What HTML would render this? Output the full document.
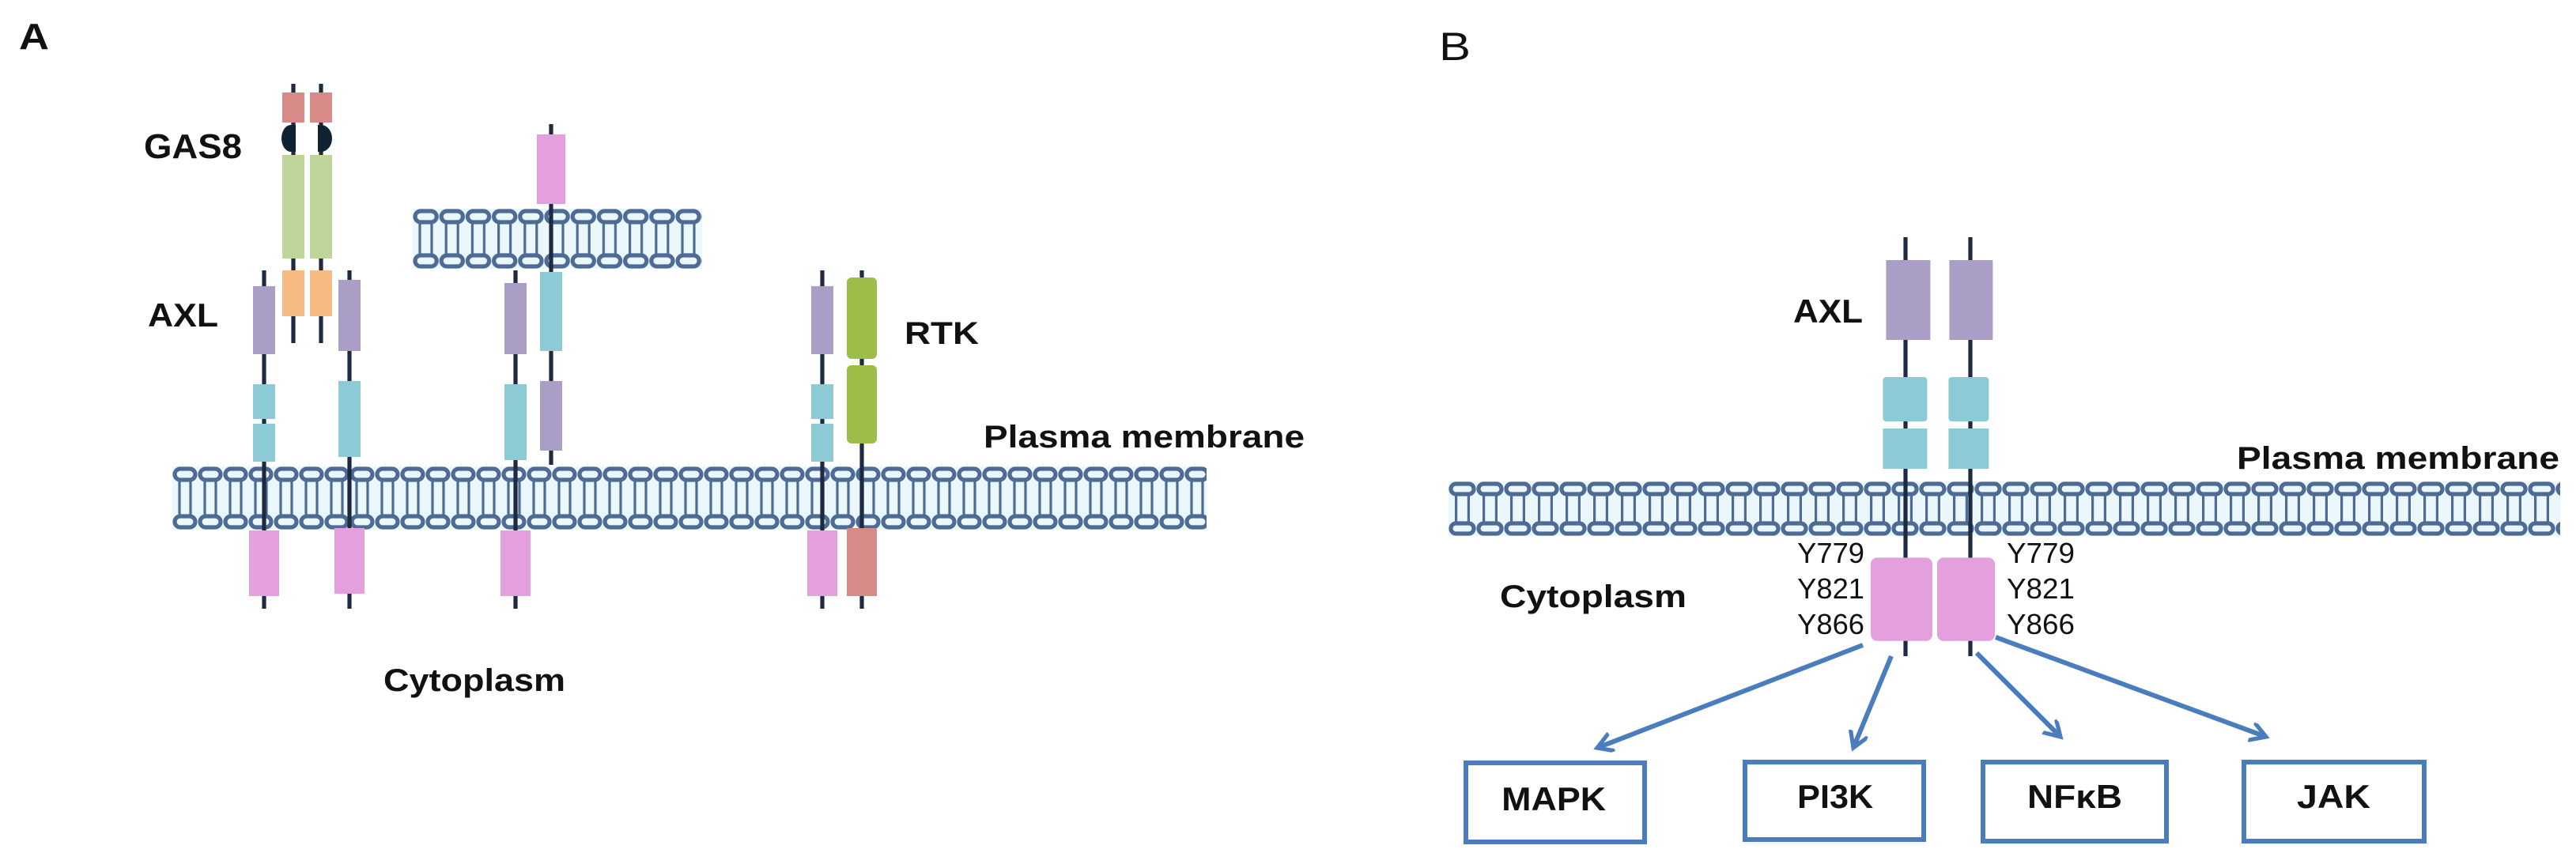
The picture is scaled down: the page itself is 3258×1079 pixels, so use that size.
<!DOCTYPE html>
<html><head><meta charset="utf-8"><style>
html,body{margin:0;padding:0;background:#fff;}
svg{display:block;}
text{font-family:"Liberation Sans",sans-serif;font-weight:bold;fill:#111;}
</style></head><body>
<svg width="3258" height="1079" viewBox="0 0 1629 539.5" xmlns="http://www.w3.org/2000/svg">
<defs>
<pattern id="memA" x="109" y="295" width="16" height="40" patternUnits="userSpaceOnUse">
<rect width="16" height="40" fill="#eaf7fc"/>
<line x1="4.5" y1="8" x2="4.5" y2="32" stroke="#4d6b94" stroke-width="1.6"/>
<line x1="11.5" y1="8" x2="11.5" y2="32" stroke="#4d6b94" stroke-width="1.6"/>
<rect x="1.5" y="1.5" width="13" height="7" rx="3.5" fill="#eaf7fc" stroke="#4d6b94" stroke-width="2.6"/>
<rect x="1.5" y="31.5" width="13" height="7" rx="3.5" fill="#eaf7fc" stroke="#4d6b94" stroke-width="2.6"/>
</pattern>
<pattern id="memS" x="261" y="132" width="16.6" height="38" patternUnits="userSpaceOnUse">
<rect width="16.6" height="38" fill="#eaf7fc"/>
<line x1="4.5" y1="8" x2="4.5" y2="30" stroke="#4d6b94" stroke-width="1.6"/>
<line x1="12" y1="8" x2="12" y2="30" stroke="#4d6b94" stroke-width="1.6"/>
<rect x="1.5" y="1.5" width="13.6" height="7" rx="3.5" fill="#eaf7fc" stroke="#4d6b94" stroke-width="2.6"/>
<rect x="1.5" y="29.5" width="13.6" height="7" rx="3.5" fill="#eaf7fc" stroke="#4d6b94" stroke-width="2.6"/>
</pattern>
<pattern id="memB" x="916" y="304.5" width="17.5" height="34.5" patternUnits="userSpaceOnUse">
<rect width="17.5" height="34.5" fill="#eaf7fc"/>
<line x1="4.8" y1="7.5" x2="4.8" y2="27" stroke="#4d6b94" stroke-width="1.6"/>
<line x1="12.7" y1="7.5" x2="12.7" y2="27" stroke="#4d6b94" stroke-width="1.6"/>
<rect x="1.5" y="1.5" width="14.5" height="6.5" rx="3.2" fill="#eaf7fc" stroke="#4d6b94" stroke-width="2.6"/>
<rect x="1.5" y="26.5" width="14.5" height="6.5" rx="3.2" fill="#eaf7fc" stroke="#4d6b94" stroke-width="2.6"/>
</pattern>
<marker id="ar" markerWidth="14" markerHeight="14" refX="10" refY="6" orient="auto" markerUnits="userSpaceOnUse">
<path d="M0,0 L10,6 L0,12" fill="none" stroke="#4a7dbd" stroke-width="2.6"/>
</marker>
</defs>

<!-- Panel A -->
<text x="12" y="31" font-size="23" textLength="19" lengthAdjust="spacingAndGlyphs">A</text>
<rect x="109" y="295" width="654" height="40" fill="url(#memA)"/>
<rect x="261" y="132" width="183" height="38" fill="url(#memS)"/>

<g stroke="#1e2a40" stroke-width="2.6">
<line x1="167" y1="171" x2="167" y2="385"/>
<line x1="221" y1="171" x2="221" y2="385"/>
<line x1="185.5" y1="53" x2="185.5" y2="217"/>
<line x1="203" y1="53" x2="203" y2="217"/>
<line x1="326" y1="171" x2="326" y2="385"/>
<line x1="348.5" y1="78.5" x2="348.5" y2="294"/>
<line x1="520" y1="171" x2="520" y2="385"/>
<line x1="545" y1="171" x2="545" y2="385"/>
</g>
<!-- GAS8 -->
<rect x="178.5" y="58.5" width="14" height="19" fill="#d88a88"/>
<rect x="196" y="58.5" width="14" height="19" fill="#d88a88"/>
<path d="M187,79 h-3 a6,8.5 0 0 0 0,17 h3 z" fill="#123"/>
<path d="M201,79 h2 a7,8.5 0 0 1 0,17 h-2 z" fill="#123"/>
<rect x="178.5" y="98" width="14" height="65.5" fill="#bfd49a"/>
<rect x="196" y="98" width="14" height="65.5" fill="#bfd49a"/>
<rect x="178.5" y="171" width="14" height="29" fill="#f6bb82"/>
<rect x="196" y="171" width="14" height="29" fill="#f6bb82"/>
<!-- receptor 1 -->
<rect x="160" y="181" width="14" height="43" fill="#ab9ec6"/>
<rect x="160" y="243" width="14" height="22" fill="#8ccbd6"/>
<rect x="160" y="268" width="14" height="24" fill="#8ccbd6"/>
<rect x="157.5" y="335.5" width="19" height="41.5" fill="#e3a0dc"/>
<!-- receptor 2 -->
<rect x="214" y="177" width="14" height="45" fill="#ab9ec6"/>
<rect x="214" y="241" width="14" height="48" fill="#8ccbd6"/>
<rect x="211.5" y="334" width="19" height="41.5" fill="#e3a0dc"/>
<!-- receptor 3 -->
<rect x="319" y="179" width="14" height="45" fill="#ab9ec6"/>
<rect x="319" y="243" width="14" height="48" fill="#8ccbd6"/>
<rect x="316.5" y="335.5" width="19" height="41.5" fill="#e3a0dc"/>
<!-- receptor 4 -->
<rect x="339.5" y="85" width="18" height="44" fill="#e3a0dc"/>
<rect x="341.5" y="172" width="14" height="50" fill="#8ccbd6"/>
<rect x="341.5" y="241" width="14" height="44" fill="#ab9ec6"/>
<!-- receptor 5 -->
<rect x="513" y="181" width="14" height="43" fill="#ab9ec6"/>
<rect x="513" y="243" width="14" height="22" fill="#8ccbd6"/>
<rect x="513" y="268" width="14" height="24" fill="#8ccbd6"/>
<rect x="510.5" y="335.5" width="19" height="41.5" fill="#e3a0dc"/>
<!-- RTK -->
<rect x="535.5" y="175.5" width="19" height="51.5" rx="3" fill="#9cbe48"/>
<rect x="535.5" y="231" width="19" height="49.5" rx="3" fill="#9cbe48"/>
<rect x="535.5" y="334" width="19" height="43" fill="#d88a88"/>

<text x="91" y="100" font-size="22" textLength="62" lengthAdjust="spacingAndGlyphs">GAS8</text>
<text x="93.5" y="206.5" font-size="21" textLength="44.5" lengthAdjust="spacingAndGlyphs">AXL</text>
<text x="572" y="217.5" font-size="20" textLength="47" lengthAdjust="spacingAndGlyphs">RTK</text>
<text x="622" y="283" font-size="20" textLength="203" lengthAdjust="spacingAndGlyphs">Plasma membrane</text>
<text x="242.5" y="437" font-size="20" textLength="115" lengthAdjust="spacingAndGlyphs">Cytoplasm</text>

<!-- Panel B -->
<text x="910" y="38" font-size="25" textLength="20" lengthAdjust="spacingAndGlyphs" style="font-weight:normal">B</text>
<rect x="916" y="304.5" width="703" height="34.5" fill="url(#memB)"/>
<g stroke="#1e2a40" stroke-width="2.6">
<line x1="1205" y1="150" x2="1205" y2="415"/>
<line x1="1246" y1="150" x2="1246" y2="415"/>
</g>
<rect x="1192.7" y="164.5" width="28" height="50.5" fill="#ab9ec6"/>
<rect x="1232.7" y="164.5" width="27.5" height="50.5" fill="#ab9ec6"/>
<rect x="1190.7" y="238.5" width="28" height="28" rx="2" fill="#8ccbd6"/>
<rect x="1232.2" y="238.5" width="25.5" height="28" rx="2" fill="#8ccbd6"/>
<rect x="1190.7" y="271" width="28" height="25.5" fill="#8ccbd6"/>
<rect x="1232.2" y="271" width="25.5" height="25.5" fill="#8ccbd6"/>
<rect x="1183" y="352.7" width="39" height="52.7" rx="4" fill="#e3a0dc"/>
<rect x="1225" y="352.7" width="36.5" height="52.7" rx="4" fill="#e3a0dc"/>

<text x="1134" y="204" font-size="21" textLength="44" lengthAdjust="spacingAndGlyphs">AXL</text>
<text x="1414.5" y="296.5" font-size="20" textLength="204" lengthAdjust="spacingAndGlyphs">Plasma membrane</text>
<text x="948.5" y="384" font-size="20" textLength="118" lengthAdjust="spacingAndGlyphs">Cytoplasm</text>
<g font-size="18">
<text x="1136.6" y="356" textLength="42.4" lengthAdjust="spacingAndGlyphs" style="font-weight:normal">Y779</text>
<text x="1136.6" y="378.5" textLength="42.4" lengthAdjust="spacingAndGlyphs" style="font-weight:normal">Y821</text>
<text x="1136.6" y="401" textLength="42.4" lengthAdjust="spacingAndGlyphs" style="font-weight:normal">Y866</text>
<text x="1269" y="356" textLength="43" lengthAdjust="spacingAndGlyphs" style="font-weight:normal">Y779</text>
<text x="1269" y="378.5" textLength="43" lengthAdjust="spacingAndGlyphs" style="font-weight:normal">Y821</text>
<text x="1269" y="401" textLength="43" lengthAdjust="spacingAndGlyphs" style="font-weight:normal">Y866</text>
</g>

<g stroke="#4a7dbd" stroke-width="3" fill="none" marker-end="url(#ar)">
<line x1="1178" y1="408" x2="1010" y2="473"/>
<line x1="1196" y1="415" x2="1172" y2="473"/>
<line x1="1250" y1="413" x2="1303" y2="466"/>
<line x1="1262" y1="403" x2="1433" y2="466"/>
</g>
<g fill="none" stroke="#4a7dbd" stroke-width="3">
<rect x="927" y="482.5" width="113" height="50"/>
<rect x="1103.5" y="482" width="113" height="49"/>
<rect x="1254" y="482" width="116" height="50"/>
<rect x="1419" y="482" width="114" height="50"/>
</g>
<text x="949.6" y="512.5" font-size="21" textLength="66" lengthAdjust="spacingAndGlyphs">MAPK</text>
<text x="1136.6" y="511" font-size="21" textLength="48" lengthAdjust="spacingAndGlyphs">PI3K</text>
<text x="1282" y="511" font-size="21" textLength="60" lengthAdjust="spacingAndGlyphs">NFκB</text>
<text x="1452.5" y="511" font-size="21" textLength="46.5" lengthAdjust="spacingAndGlyphs">JAK</text>
</svg>
</body></html>
